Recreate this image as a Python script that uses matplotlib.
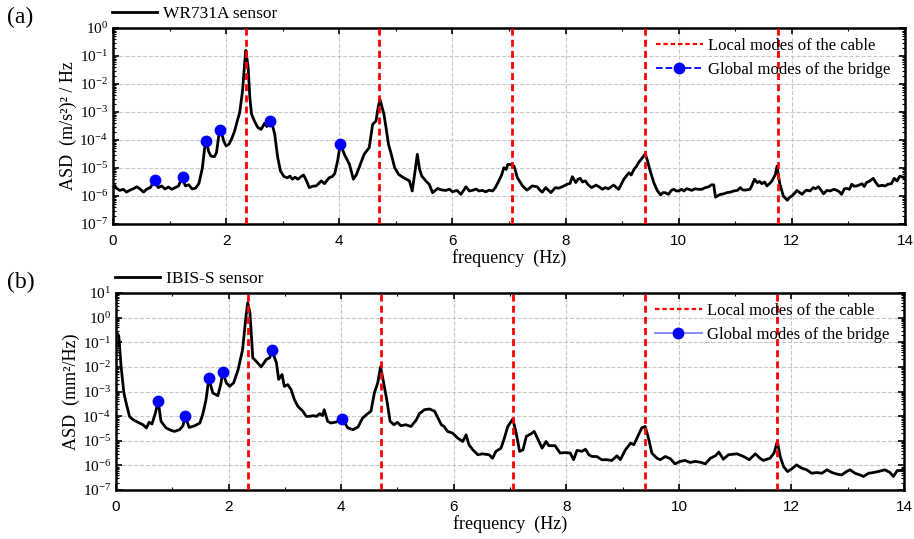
import matplotlib
matplotlib.use("Agg")
import matplotlib.pyplot as plt
import numpy as np
from matplotlib.ticker import LogLocator, MultipleLocator, NullFormatter

plt.rcParams.update({
    "font.family": "Liberation Serif",
    "mathtext.fontset": "custom",
    "mathtext.rm": "Liberation Sans",
    "mathtext.it": "Liberation Sans:italic",
    "xtick.direction": "in",
    "ytick.direction": "in",
})

# ---- data (log10 of ASD) ----
freq_a = [0.00, 0.03, 0.06, 0.12, 0.18, 0.24, 0.30, 0.36, 0.42, 0.48, 0.54, 0.60, 0.66, 0.74, 0.80,
          0.86, 0.92, 0.98, 1.04, 1.10, 1.16, 1.22, 1.28, 1.34, 1.40, 1.46, 1.52, 1.58, 1.62, 1.65,
          1.69, 1.73, 1.79, 1.83, 1.88, 1.91, 1.96, 2.00, 2.05, 2.10, 2.15, 2.20, 2.24, 2.29, 2.33,
          2.35, 2.39, 2.42, 2.45, 2.50, 2.56, 2.62, 2.68, 2.72, 2.77, 2.81, 2.86, 2.91, 2.96, 3.02,
          3.08, 3.13, 3.17, 3.22, 3.27, 3.33, 3.37, 3.42, 3.47, 3.53, 3.59, 3.64, 3.68, 3.74, 3.78,
          3.82, 3.88, 3.92, 3.97, 4.02, 4.09, 4.18, 4.25, 4.30, 4.35, 4.44, 4.53, 4.59, 4.65, 4.69,
          4.72, 4.76, 4.79, 4.83, 4.87, 4.92, 4.98, 5.05, 5.14, 5.24, 5.29, 5.34, 5.38, 5.42, 5.46,
          5.53, 5.59, 5.65, 5.74, 5.80, 5.88, 5.95, 6.00, 6.08, 6.15, 6.24, 6.30, 6.35, 6.42, 6.47,
          6.53, 6.59, 6.65, 6.71, 6.76, 6.82, 6.87, 6.91, 6.95, 6.98, 7.03, 7.09, 7.15, 7.24, 7.32,
          7.41, 7.50, 7.55, 7.59, 7.65, 7.70, 7.74, 7.82, 7.88, 7.94, 8.03, 8.08, 8.12, 8.18, 8.22,
          8.26, 8.30, 8.35, 8.40, 8.46, 8.54, 8.60, 8.65, 8.70, 8.76, 8.82, 8.85, 8.90, 8.94, 9.03,
          9.12, 9.16, 9.21, 9.25, 9.29, 9.36, 9.41, 9.45, 9.48, 9.56, 9.62, 9.68, 9.72, 9.76, 9.82,
          9.87, 9.91, 9.96, 10.00, 10.05, 10.09, 10.14, 10.18, 10.23, 10.29, 10.35, 10.41, 10.47, 10.53, 10.58,
          10.62, 10.65, 10.70, 10.74, 10.80, 10.85, 10.92, 10.97, 11.04, 11.09, 11.13, 11.18, 11.26, 11.30, 11.34,
          11.39, 11.43, 11.47, 11.52, 11.56, 11.61, 11.65, 11.71, 11.74, 11.77, 11.79, 11.85, 11.92, 11.96, 12.00,
          12.05, 12.09, 12.14, 12.18, 12.22, 12.26, 12.32, 12.38, 12.42, 12.47, 12.52, 12.56, 12.62, 12.68, 12.74,
          12.79, 12.84, 12.88, 12.93, 12.97, 13.02, 13.06, 13.10, 13.15, 13.20, 13.24, 13.28, 13.32, 13.38, 13.44,
          13.48, 13.53, 13.60, 13.65, 13.70, 13.76, 13.81, 13.86, 13.91, 13.97, 14.00]
log_asd_a = [-5.58, -5.62, -5.72, -5.80, -5.76, -5.86, -5.79, -5.74, -5.67, -5.75, -5.86, -5.75, -5.70, -5.43, -5.70,
             -5.64, -5.75, -5.68, -5.76, -5.70, -5.64, -5.33, -5.64, -5.60, -5.75, -5.72, -5.55, -5.00, -4.30, -4.04,
             -4.40, -4.57, -4.60, -4.45, -3.70, -3.65, -4.05, -4.21, -4.15, -3.95, -3.68, -3.30, -3.02, -2.25, -1.20,
             -0.80, -1.42, -2.50, -3.08, -3.32, -3.55, -3.62, -3.40, -3.52, -3.33, -3.40, -3.80, -4.60, -5.10, -5.30,
             -5.35, -5.29, -5.40, -5.33, -5.40, -5.30, -5.25, -5.45, -5.70, -5.65, -5.64, -5.55, -5.46, -5.56, -5.45,
             -5.35, -5.30, -5.20, -4.75, -4.13, -4.51, -4.87, -5.40, -5.25, -4.99, -4.51, -4.27, -3.44, -3.32, -2.80,
             -2.55, -2.85, -3.08, -3.60, -4.15, -4.51, -4.99, -5.23, -5.35, -5.46, -5.82, -5.11, -4.51, -5.05, -5.29,
             -5.46, -5.58, -5.88, -5.73, -5.78, -5.80, -5.76, -5.85, -5.80, -5.94, -5.67, -5.82, -5.80, -5.75, -5.82,
             -5.80, -5.85, -5.79, -5.82, -5.70, -5.46, -5.25, -4.99, -5.05, -4.87, -4.87, -4.93, -5.35, -5.64, -5.79,
             -5.64, -5.67, -5.80, -5.86, -5.70, -5.80, -5.88, -5.70, -5.72, -5.67, -5.58, -5.55, -5.31, -5.52, -5.40,
             -5.37, -5.50, -5.46, -5.60, -5.70, -5.61, -5.68, -5.76, -5.70, -5.74, -5.65, -5.61, -5.70, -5.76, -5.40,
             -5.17, -5.25, -5.05, -4.95, -4.81, -4.63, -4.49, -4.75, -4.99, -5.52, -5.80, -5.96, -5.88, -5.88, -5.94,
             -5.80, -5.76, -5.82, -5.82, -5.76, -5.82, -5.74, -5.76, -5.80, -5.74, -5.76, -5.76, -5.70, -5.67, -5.60,
             -5.60, -6.04, -5.98, -5.94, -5.92, -5.88, -5.86, -5.82, -5.80, -5.70, -5.78, -5.79, -5.76, -5.60, -5.40,
             -5.52, -5.48, -5.56, -5.50, -5.64, -5.55, -5.46, -5.23, -4.93, -5.35, -5.58, -6.00, -6.15, -6.05, -6.00,
             -5.90, -5.80, -5.88, -5.94, -5.85, -5.79, -5.82, -5.70, -5.74, -5.67, -5.80, -5.92, -5.80, -5.82, -5.76,
             -5.79, -5.85, -5.94, -5.74, -5.73, -5.76, -5.58, -5.65, -5.64, -5.60, -5.56, -5.66, -5.52, -5.46, -5.37,
             -5.50, -5.64, -5.62, -5.64, -5.58, -5.56, -5.37, -5.46, -5.29, -5.33, -5.40]

freq_b = [0.00, 0.05, 0.09, 0.14, 0.18, 0.24, 0.30, 0.39, 0.48, 0.54, 0.59, 0.64, 0.70, 0.75, 0.80,
          0.89, 0.98, 1.04, 1.13, 1.19, 1.23, 1.30, 1.40, 1.49, 1.54, 1.60, 1.65, 1.72, 1.81, 1.86,
          1.90, 1.96, 2.02, 2.09, 2.17, 2.25, 2.31, 2.34, 2.38, 2.43, 2.49, 2.58, 2.67, 2.73, 2.77,
          2.85, 2.89, 2.95, 2.99, 3.05, 3.11, 3.17, 3.23, 3.32, 3.38, 3.44, 3.50, 3.56, 3.62, 3.67,
          3.70, 3.76, 3.82, 3.91, 4.02, 4.12, 4.21, 4.30, 4.38, 4.47, 4.53, 4.59, 4.65, 4.70, 4.75,
          4.81, 4.87, 4.94, 5.00, 5.06, 5.15, 5.24, 5.33, 5.39, 5.48, 5.57, 5.66, 5.72, 5.78, 5.83,
          5.89, 5.98, 6.07, 6.16, 6.22, 6.27, 6.34, 6.43, 6.51, 6.63, 6.69, 6.75, 6.84, 6.90, 6.96,
          7.05, 7.11, 7.17, 7.23, 7.29, 7.38, 7.43, 7.50, 7.57, 7.64, 7.69, 7.80, 7.89, 7.98, 8.07,
          8.13, 8.19, 8.28, 8.34, 8.40, 8.46, 8.54, 8.63, 8.72, 8.81, 8.90, 8.96, 9.05, 9.14, 9.20,
          9.27, 9.34, 9.40, 9.46, 9.52, 9.61, 9.67, 9.76, 9.85, 9.93, 10.02, 10.11, 10.20, 10.29, 10.38,
          10.47, 10.56, 10.65, 10.71, 10.79, 10.88, 11.03, 11.15, 11.25, 11.36, 11.44, 11.50, 11.62, 11.69, 11.75,
          11.80, 11.86, 11.93, 12.00, 12.09, 12.18, 12.27, 12.36, 12.45, 12.54, 12.63, 12.72, 12.80, 12.89, 12.98,
          13.04, 13.13, 13.22, 13.28, 13.37, 13.46, 13.54, 13.66, 13.75, 13.81, 13.88, 13.96, 14.00]
log_asd_b = [-0.54, -0.75, -1.97, -3.06, -3.46, -4.01, -4.14, -4.25, -4.35, -4.48, -4.25, -4.32, -3.87, -3.40, -4.21,
             -4.48, -4.58, -4.62, -4.55, -4.39, -4.01, -4.46, -4.39, -4.28, -3.94, -3.33, -2.47, -3.06, -3.17, -2.72,
             -2.20, -2.65, -2.79, -2.65, -2.11, -1.29, 0.07, 0.61, 0.20, -1.63, -1.77, -2.00, -1.70, -1.63, -1.33,
             -1.83, -2.51, -2.31, -2.79, -2.72, -2.92, -3.33, -3.60, -3.80, -4.01, -4.01, -3.98, -4.01, -3.90, -3.98,
             -3.74, -4.21, -4.28, -4.24, -4.12, -4.48, -4.55, -4.44, -4.08, -3.90, -3.80, -3.06, -2.65, -2.00, -2.58,
             -3.33, -4.21, -4.35, -4.25, -4.39, -4.35, -4.42, -4.17, -3.90, -3.74, -3.71, -3.80, -4.08, -4.35, -4.42,
             -4.62, -4.69, -4.89, -5.03, -4.76, -5.16, -5.37, -5.57, -5.53, -5.57, -5.71, -5.43, -5.30, -4.89, -4.42,
             -4.12, -4.69, -5.43, -5.37, -4.82, -4.71, -4.62, -4.96, -5.30, -5.03, -5.20, -5.20, -5.50, -5.48, -5.50,
             -5.77, -5.39, -5.43, -5.34, -5.57, -5.64, -5.64, -5.77, -5.77, -5.80, -5.61, -5.77, -5.37, -5.10, -5.16,
             -4.82, -4.48, -4.42, -4.89, -5.50, -5.71, -5.77, -5.64, -5.73, -5.94, -5.84, -5.80, -5.88, -5.84, -5.87,
             -5.94, -5.71, -5.61, -5.46, -5.75, -5.57, -5.53, -5.64, -5.77, -5.53, -5.71, -5.80, -5.71, -5.50, -5.03,
             -5.64, -6.05, -6.25, -6.15, -5.98, -6.11, -6.18, -6.32, -6.29, -6.32, -6.18, -6.29, -6.35, -6.39, -6.25,
             -6.18, -6.32, -6.39, -6.45, -6.32, -6.29, -6.25, -6.18, -6.29, -6.45, -6.21, -6.21, -6.21]

local_modes = [2.35, 4.70, 7.05, 9.40, 11.75]
global_freq = [0.75, 1.23, 1.65, 1.90, 2.77, 4.02]
global_asd_a = [3.7e-6, 4.6e-6, 9.0e-5, 2.2e-4, 4.6e-4, 7.2e-5]
global_asd_b = [4.0e-4, 1.0e-4, 3.4e-3, 6.4e-3, 4.7e-2, 7.6e-5]

panels = [
    dict(tag="(a)", freq=freq_a, logv=log_asd_a, gasd=global_asd_a, name="WR731A sensor",
         ylabel="ASD  (m/s²)² / Hz", ylim=(1e-7, 1), gls="--", gcol="blue",
         rect=[0.1236, 0.5844, 0.8665, 0.3636]),
    dict(tag="(b)", freq=freq_b, logv=log_asd_b, gasd=global_asd_b, name="IBIS-S sensor",
         ylabel="ASD  (mm²/Hz)", ylim=(1e-7, 10), gls="-", gcol="#8080ff",
         rect=[0.1269, 0.0909, 0.8622, 0.3655]),
]

fig = plt.figure(figsize=(9.14, 5.39), dpi=100)

for p in panels:
    ax = fig.add_axes(p["rect"])
    asd = 10 ** np.array(p["logv"])
    (sensor_line,) = ax.plot(p["freq"], asd, color="black", lw=2.0, label=p["name"])
    for f in local_modes:
        ax.axvline(f, color="red", ls=(0, (2.5, 1.5)), lw=2.0, zorder=3)
    ax.plot(global_freq, p["gasd"], ls="none", marker="o", ms=7.5, color="blue", zorder=4)
    glob_handle = plt.Line2D([], [], color=p["gcol"], ls=p["gls"], marker="o", ms=7.5,
                             mfc="blue", mec="blue", lw=1.3)

    ax.set_yscale("log")
    ax.set_xlim(0, 14)
    ax.set_ylim(*p["ylim"])
    ax.xaxis.set_major_locator(MultipleLocator(2))
    ax.xaxis.set_minor_locator(MultipleLocator(1))
    ax.yaxis.set_major_locator(LogLocator(base=10, numticks=20))
    ax.yaxis.set_minor_locator(LogLocator(base=10, subs=np.arange(2, 10), numticks=20))
    ax.yaxis.set_minor_formatter(NullFormatter())
    ax.tick_params(which="both", top=True, right=True, labelsize=11)
    ax.tick_params(axis="x", which="major", pad=7)
    ax.tick_params(which="major", length=4, width=1.2)
    ax.tick_params(which="minor", length=2.5, width=0.8)
    for lab in ax.get_xticklabels():
        lab.set_fontfamily("Liberation Sans")
    ax.grid(True, which="major", color="#c8c8c8", ls="--", lw=0.8)
    for s in ax.spines.values():
        s.set_linewidth(1.8)

    ax.set_xlabel("frequency  (Hz)", fontsize=13, labelpad=1)
    ax.set_ylabel(p["ylabel"], fontsize=13, labelpad=2)

    leg_top = ax.legend(handles=[sensor_line], loc="lower left", bbox_to_anchor=(-0.003, 1.02),
                        frameon=False, fontsize=12.5, handlelength=2.6, handletextpad=0.3,
                        borderaxespad=0, borderpad=0.1)
    ax.add_artist(leg_top)
    red_handle = plt.Line2D([], [], color="red", ls=(0, (2.0, 1.3)), lw=1.6)
    ax.legend([red_handle, glob_handle], ["Local modes of the cable", "Global modes of the bridge"],
              loc="upper right", bbox_to_anchor=(1.0, 1.025), frameon=False, fontsize=12,
              handlelength=2.8, handletextpad=0.3, labelspacing=0.45)

    fig.text(0.008, p["rect"][1] + p["rect"][3] + 0.0, p["tag"], fontsize=17, va="bottom")

fig.savefig("out.png", dpi=100)
